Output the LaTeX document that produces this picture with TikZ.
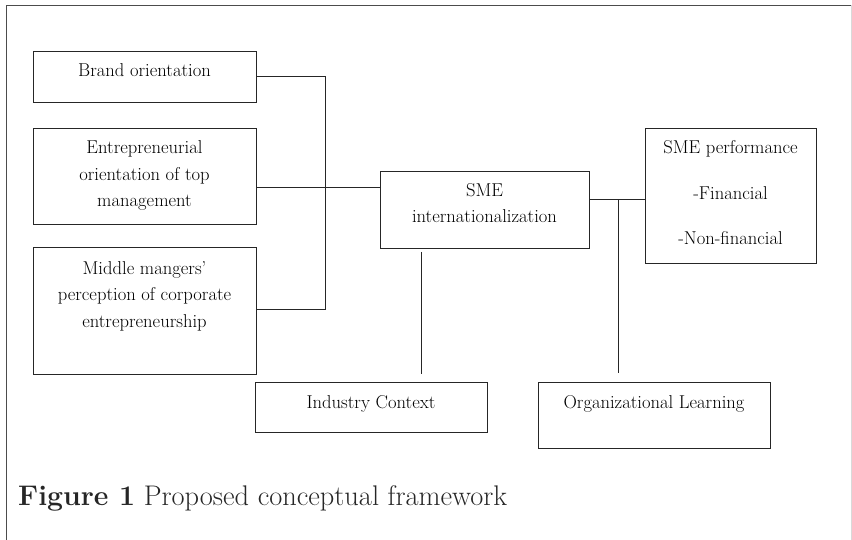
\documentclass[tikz,border=0pt]{standalone}
\begin{document}
\begin{tikzpicture}[x=1pt,y=-1pt,
  box/.style={draw=black!85,line width=1pt,anchor=north west,inner sep=0pt},
  txt/.style={anchor=base,align=center,inner sep=0pt,font=\fontsize{18.6}{26.5}\selectfont,text=black},
  wire/.style={draw=black!85,line width=1pt}]
\useasboundingbox (0,0) rectangle (852,540);
% frame
\draw[black!70,line width=1pt] (6,540) -- (6,5.5) -- (852,5.5);
\draw[black!15,line width=1pt] (851.5,5.5) -- (851.5,540);
% boxes
\node[box,minimum width=223pt,minimum height=51pt] (brand) at (33,51) {};
\node[box,minimum width=223pt,minimum height=96pt] (entre) at (33,128) {};
\node[box,minimum width=223pt,minimum height=127pt] (middle) at (33,247) {};
\node[box,minimum width=209pt,minimum height=77pt] (sme) at (380,171) {};
\node[box,minimum width=171pt,minimum height=135pt] (perf) at (645,128) {};
\node[box,minimum width=232pt,minimum height=50pt] (ind) at (255,382) {};
\node[box,minimum width=232pt,minimum height=66pt] (org) at (538,382) {};
% texts (base anchor = baseline of last line)
\node[txt] (tbrand) at (144.5,77) {Brand orientation};
\node[txt] (tentre) at (144.5,207) {Entrepreneurial\\orientation of top\\management};
\node[txt] (tmiddle) at (144.5,327) {Middle mangers'\\perception of corporate\\entrepreneurship};
\node[txt] (tsme) at (484.5,223) {SME\\internationalization};
\node[txt] (tperf) at (730.5,245) {SME performance\\[19pt]-Financial\\[19pt]-Non-financial};
\node[txt] (tind) at (371,408) {Industry Context};
\node[txt] (torg) at (654,408) {Organizational Learning};
% connectors
\coordinate (bus1) at (325,77);
\coordinate (bus2) at (325,310);
\coordinate (j1) at (618,200);
\coordinate (j1b) at (618,373);
\coordinate (s1) at (421,252);
\coordinate (s2) at (421,374);
\draw[wire] (brand.east |- bus1) -- (bus1) -- (bus2) -- (middle.east |- bus2);
\draw[wire] (entre.east |- 0,188) -- (sme.west |- 0,188);
\draw[wire] (sme.east |- j1) -- (perf.west |- j1);
\draw[wire] (j1) -- (j1b);
\draw[wire] (s1) -- (s2);
% caption
\node[anchor=base west,inner sep=0pt,font=\fontsize{28.4}{32}\selectfont,text=black!85] (cap) at (18,505) {\textbf{Figure 1} Proposed conceptual framework};
\end{tikzpicture}
\end{document}
